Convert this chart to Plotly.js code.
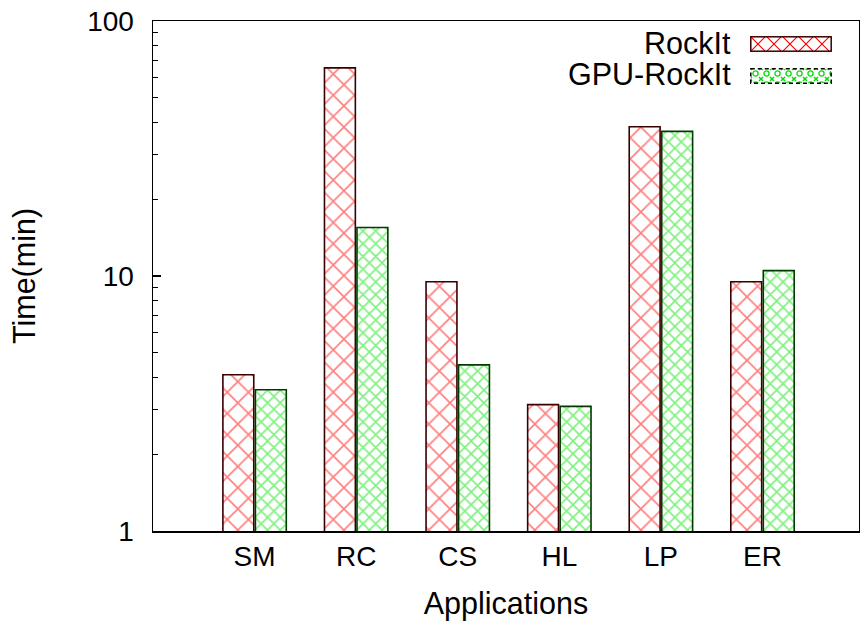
<!DOCTYPE html>
<html><head><meta charset="utf-8">
<script src="https://cdn.plot.ly/plotly-3.0.1.min.js"></script>
<style>html,body{margin:0;padding:0;background:#fff}#c{width:860px;height:626px}</style>
</head><body><div id="c"></div>
<script>
const categories = ["SM","RC","CS","HL","LP","ER"];
const rockit = [4.1, 65.5, 9.5, 3.13, 38.5, 9.5];
const gpuRockit = [3.58, 15.5, 4.48, 3.08, 36.9, 10.5];
const yTicks = [1, 10, 100];
const seriesNames = ["RockIt", "GPU-RockIt"];

const xIdx = categories.map((_, i) => i);
const redPattern = {shape:'x', fgcolor:'#ff0000', bgcolor:'#ffffff', size:15, solidity:0.21, fillmode:'overlay'};
const greenPattern = {shape:'x', fgcolor:'#00e000', bgcolor:'#ffffff', size:9, solidity:0.33, fillmode:'overlay'};
const traces = [
  {type:'bar', name:seriesNames[0], x:xIdx, y:rockit, showlegend:false,
   marker:{color:'#ffffff', line:{color:'#3a0000', width:1.6}, pattern:redPattern}},
  {type:'bar', name:seriesNames[1], x:xIdx, y:gpuRockit, showlegend:false,
   marker:{color:'#ffffff', line:{color:'#003a00', width:1.6}, pattern:greenPattern}}
];

function swatch(kind){
  let defs, stroke, dash;
  if(kind===0){
    defs = '<pattern id="p" width="16" height="16" patternUnits="userSpaceOnUse"><path d="M0 0L16 16M16 0L0 16" stroke="#ff0000" stroke-width="1.2"/></pattern>';
    stroke = '#3a0000'; dash = '';
  } else {
    defs = '<pattern id="p" width="11" height="11" patternUnits="userSpaceOnUse"><circle cx="5.5" cy="5.5" r="2.6" fill="none" stroke="#00e000" stroke-width="1.3"/><path d="M0 0L2 2M11 0L9 2M0 11L2 9M11 11L9 9" stroke="#00e000" stroke-width="1.5"/></pattern>';
    stroke = '#000'; dash = ' stroke-dasharray="4,3"';
  }
  const svg = '<svg xmlns="http://www.w3.org/2000/svg" width="82" height="16"><defs>'+defs+'</defs><rect x="0.8" y="0.8" width="80.4" height="14.4" fill="url(#p)" stroke="'+stroke+'" stroke-width="1.5"'+dash+'/></svg>';
  return 'data:image/svg+xml;base64,' + btoa(svg);
}

const L = 153, R = 859, T = 21, B = 531;
const W = R - L, H = B - T;
const tickFont = {family:'Liberation Sans, Arial, Helvetica, sans-serif', size:28, color:'#000'};
const titleFont = {family:'Liberation Sans, Arial, Helvetica, sans-serif', size:30.5, color:'#000'};
const legendTextY = [43, 74];
const legendBoxTop = [36, 68];
const layout = {
  width:860, height:626,
  margin:{l:L, r:860-R, t:T, b:626-B},
  paper_bgcolor:'#fff', plot_bgcolor:'#fff',
  font: tickFont,
  barmode:'group', bargap:0.36, bargroupgap:0.05,
  showlegend:false,
  xaxis:{range:[-1.0, 5.95], tickvals:xIdx, ticktext:categories, ticks:'', showgrid:false, zeroline:false,
    showline:true, linecolor:'#000', linewidth:1.5, mirror:true,
    title:{text:'Applications', font:titleFont, standoff:21}, tickfont:tickFont},
  yaxis:{type:'log', range:[0, 2], tickvals:yTicks, ticktext:yTicks.map(String), ticks:'inside', ticklen:8, tickwidth:1.2, tickcolor:'#000',
    ticklabelstandoff:12,
    showgrid:false, zeroline:false, showline:true, linecolor:'#000', linewidth:1.5, mirror:true,
    minor:{ticks:'inside', ticklen:5, tickwidth:1.2, tickcolor:'#000', dtick:'D1', showgrid:false},
    title:{text:'Time(min)', font:titleFont, standoff:42}, tickfont:tickFont},
  annotations: seriesNames.map((n,i)=>({text:n, xref:'paper', yref:'paper',
    x:(733-L)/W, xanchor:'right', y:1-(legendTextY[i]-T)/H, yanchor:'middle', showarrow:false, font:titleFont})),
  images: seriesNames.map((n,i)=>({source:swatch(i), xref:'paper', yref:'paper',
    x:(750-L)/W, y:1-(legendBoxTop[i]-T)/H, sizex:82/W, sizey:16/H, xanchor:'left', yanchor:'top', sizing:'stretch', layer:'above'}))
};
Plotly.newPlot('c', traces, layout, {displayModeBar:false, staticPlot:true});
</script></body></html>
